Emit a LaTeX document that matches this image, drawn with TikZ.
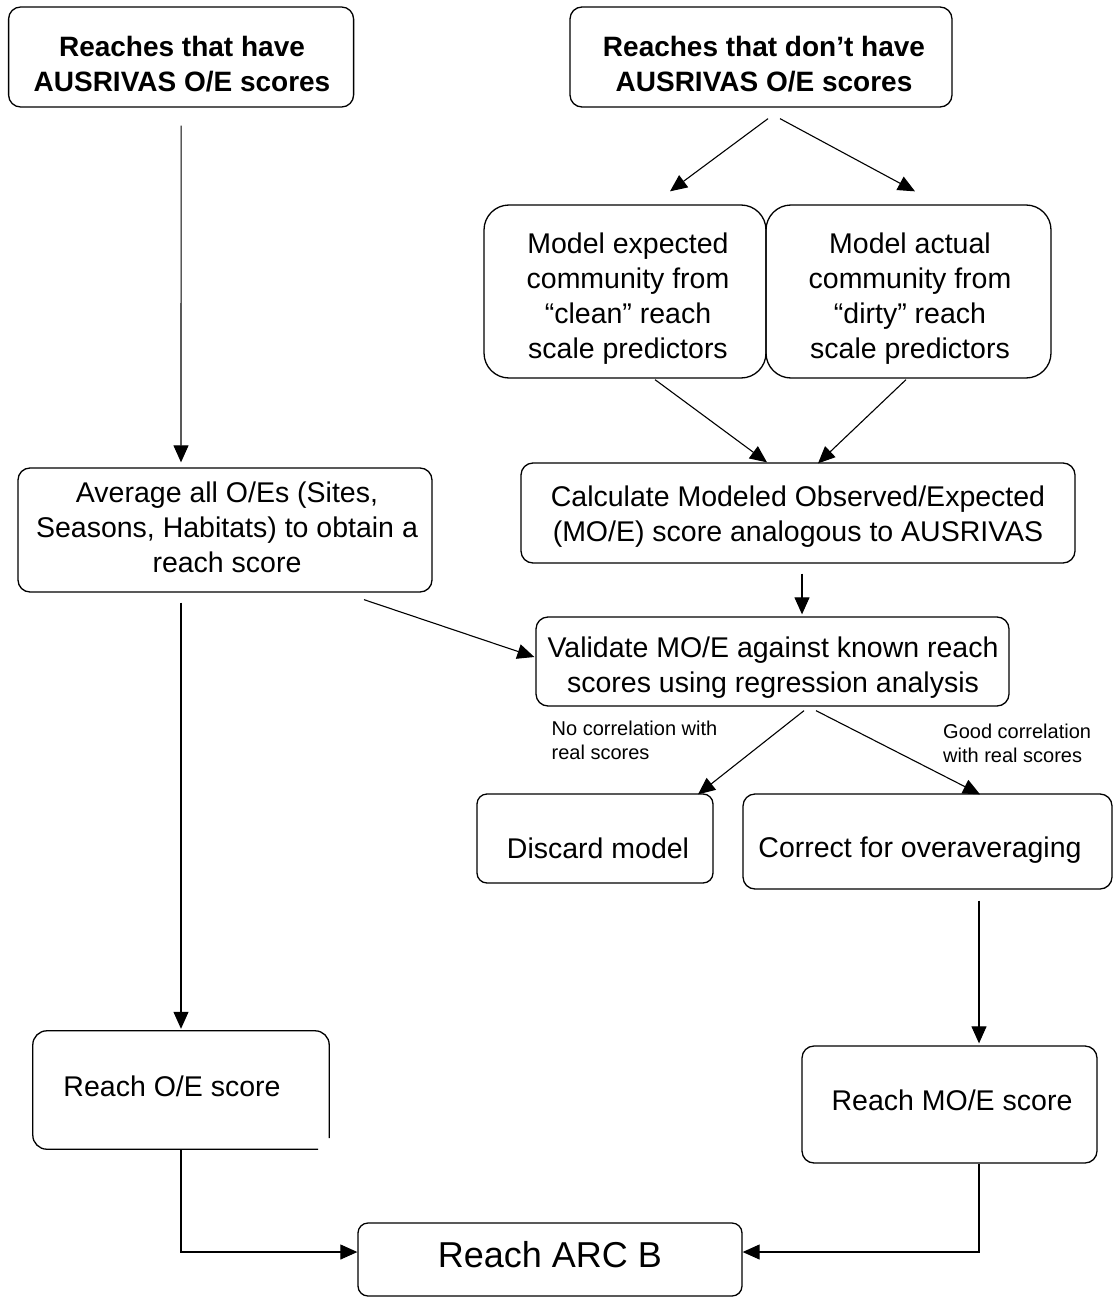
\documentclass[tikz,border=0pt]{standalone}
\usepackage{fontspec}
\setmainfont{Liberation Sans}
\usetikzlibrary{arrows.meta}
\begin{document}
\begin{tikzpicture}[x=1pt,y=-1pt,
  box/.style={draw, line width=1.3pt, rounded corners=12pt, inner sep=0pt},
  frame/.style={inner sep=0pt},
  txt/.style={inner sep=0pt, align=center, font=\fontsize{28.5}{35}\selectfont},
  ttl/.style={inner sep=0pt, align=center, font=\bfseries\fontsize{28}{35}\selectfont},
  lbl/.style={inner sep=0pt, align=left, font=\fontsize{20}{24}\selectfont},
  big/.style={inner sep=0pt, font=\fontsize{36}{40}\selectfont},
  arr/.style={line width=1.1pt, -{Triangle[length=17pt,width=15pt]}},
  ln/.style={line width=1.1pt}
]
\useasboundingbox (0,0) rectangle (1113,1297);

% boxes
\node[box, minimum width=345, minimum height=100] (A) at (181.1,57) {};
\node[box, minimum width=382, minimum height=100] (B) at (761,57) {};
\node[box, rounded corners=25pt, minimum width=282, minimum height=173] (C) at (625,291.5) {};
\node[box, rounded corners=25pt, minimum width=285, minimum height=173] (D) at (908.5,291.5) {};
\node[box, minimum width=414, minimum height=124] (E) at (225,530) {};
\node[box, minimum width=554, minimum height=100] (F) at (798,513) {};
\node[box, minimum width=473, minimum height=89] (G) at (772.5,661.5) {};
\node[box, rounded corners=10pt, minimum width=236, minimum height=89] (H) at (595,838.5) {};
\node[box, minimum width=369, minimum height=95] (I) at (927.5,841.5) {};
\node[frame, minimum width=296, minimum height=118] (J) at (181,1090) {};
\draw[line width=1.3pt, rounded corners=14pt]
  ([shift={(0,48)}]J.east) -- (J.north east) -- (J.north west) -- (J.south west) -- ([shift={(-11,0)}]J.south east);
\node[box, minimum width=295, minimum height=117] (K) at (949.5,1104.5) {};
\node[box, rounded corners=10pt, minimum width=384, minimum height=73] (L) at (550,1259.5) {};

% texts
\node[ttl] (At) at (182,64.5) {Reaches that have\\AUSRIVAS O/E scores};
\node[ttl] (Bt) at (764,64.5) {Reaches that don’t have\\AUSRIVAS O/E scores};
\node[txt] (Ct) at (628,299) {Model expected\\community from\\“clean” reach\\scale predictors};
\node[txt] (Dt) at (910,299) {Model actual\\community from\\“dirty” reach\\scale predictors};
\node[txt] (Et) at (227,527) {Average all O/Es (Sites,\\Seasons, Habitats) to obtain a\\reach score};
\node[txt] (Ft) at (798,517) {Calculate Modeled Observed/Expected\\(MO/E) score analogous to AUSRIVAS};
\node[txt] (Gt) at (773,668) {Validate MO/E against known reach\\scores using regression analysis};
\node[txt] (Ht) at (598,848) {Discard model};
\node[txt] (It) at (920,850) {Correct for overaveraging};
\node[txt] (Jt) at (172,1086) {Reach O/E score};
\node[txt] (Kt) at (952,1100) {Reach MO/E score};
\node[big] (Lt) at (550,1255) {Reach ARC B};
\node[lbl, anchor=north west] (nolbl) at (551.5,721) {No correlation with\\real scores};
\node[lbl, anchor=north west] (goodlbl) at (943,724) {Good correlation\\with real scores};

% connectors
\draw[arr] ([shift={(7,11)}]B.south) -- ([shift={(45,-13)}]C.north);
\draw[arr] ([shift={(19,11)}]B.south) -- ([shift={(6.5,-13)}]D.north);
\draw[arr] ([shift={(0,18)}]A.south) -- ([shift={(-44,-5)}]E.north);
\draw[arr] ([shift={(30,1)}]C.south) -- ([shift={(-31,0)}]F.north);
\draw[arr] ([shift={(-2.5,1)}]D.south) -- ([shift={(20,1)}]F.north);
\draw[arr] ([shift={(4,10)}]F.south) -- ([shift={(29.5,-2)}]G.north);
\draw[arr] ([shift={(139,7)}]E.south) -- ([shift={(-1,-4.5)}]G.west);
\draw[arr] ([shift={(31.5,4)}]G.south) -- ([shift={(103,1)}]H.north);
\draw[arr] ([shift={(43.5,4)}]G.south) -- ([shift={(52.5,1)}]I.north);
\draw[arr] ([shift={(-44,10)}]E.south) -- ([shift={(0,-2)}]J.north);
\draw[arr] ([shift={(51.5,11)}]I.south) -- ([shift={(29.5,-2)}]K.north);
\draw[arr] (J.south) |- ([shift={(0,-7.5)}]L.west);
\draw[arr] ([shift={(29.5,0)}]K.south) |- ([shift={(0,-7.5)}]L.east);
\end{tikzpicture}
\end{document}
